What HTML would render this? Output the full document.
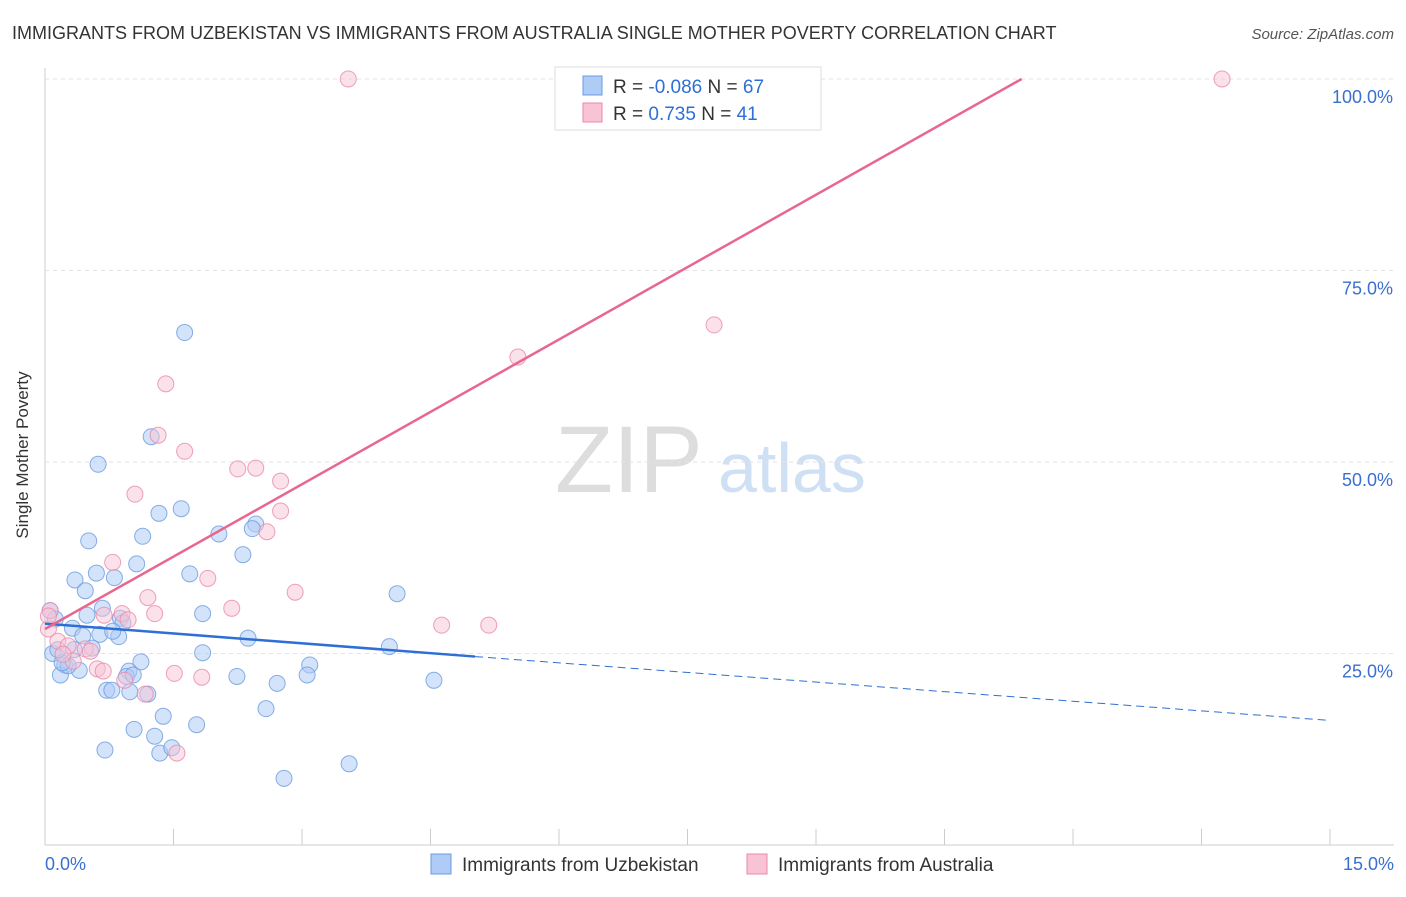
<!DOCTYPE html>
<html><head><meta charset="utf-8"><style>
body{margin:0;background:#fff;font-family:"Liberation Sans",sans-serif}
svg text{font-family:"Liberation Sans",sans-serif}
</style></head><body>
<svg id="c" width="1406" height="892">
<text x="12" y="39" font-size="18" fill="#333">IMMIGRANTS FROM UZBEKISTAN VS IMMIGRANTS FROM AUSTRALIA SINGLE MOTHER POVERTY CORRELATION CHART</text>
<text x="1394" y="39" font-size="15" fill="#555" font-style="italic" text-anchor="end">Source: ZipAtlas.com</text>
<text x="28" y="455" font-size="17" fill="#333" transform="rotate(-90 28 455)" text-anchor="middle">Single Mother Poverty</text>
<text x="555" y="492" font-size="95" fill="#ddd" font-family="Liberation Serif">ZIP</text>
<text x="718" y="492" font-size="70" fill="#cfe0f5">atlas</text>
<g id="grid"></g><g id="pts"></g><g id="lines"></g>
<g>
<rect x="555" y="67" width="266" height="63" fill="#fff" stroke="#ddd"/>
<rect x="583" y="76" width="19" height="19" fill="#aeccf5" stroke="#6a9be0"/>
<rect x="583" y="103" width="19" height="19" fill="#f8c3d5" stroke="#e88aa9"/>
<text x="613" y="93" font-size="19" fill="#333">R = <tspan fill="#2e6fd6">-0.086</tspan>   N = <tspan fill="#2e6fd6">67</tspan></text>
<text x="613" y="120" font-size="19" fill="#333">R =   <tspan fill="#2e6fd6">0.735</tspan>   N =  <tspan fill="#2e6fd6">41</tspan></text>
</g>
<g>
<rect x="431" y="854" width="20" height="20" fill="#aeccf5" stroke="#6a9be0"/>
<text x="462" y="871" font-size="19" fill="#333">Immigrants from Uzbekistan</text>
<rect x="747" y="854" width="20" height="20" fill="#f8c3d5" stroke="#e88aa9"/>
<text x="778" y="871" font-size="19" fill="#333">Immigrants from Australia</text>
</g>
<text x="45" y="870" font-size="18" fill="#3a6fd0">0.0%</text>
<text x="1394" y="870" font-size="18" fill="#3a6fd0" text-anchor="end">15.0%</text>
</svg>
<script>
const yTicks=[25,50,75,100];
const xTickCount=10;
const blueX=[1.63,1.24,0.62,1.59,1.33,1.14,0.51,2.03,2.46,2.42,2.31,1.07,0.6,0.81,0.35,1.69,0.47,4.11,0.67,0.49,0.06,0.12,1.84,0.88,0.91,0.32,0.64,0.86,0.79,0.44,2.37,4.02,0.55,0.34,1.84,0.09,0.23,1.12,0.4,0.98,3.09,3.06,0.18,0.95,2.24,1.03,4.54,2.71,0.72,0.78,0.99,1.2,2.58,1.38,1.77,1.04,1.28,0.7,1.34,1.48,3.55,2.79,0.27,0.2,0.15];
const blueY=[66.9,53.3,49.7,43.9,43.3,40.3,39.7,40.6,41.9,41.3,37.9,36.7,35.5,34.9,34.6,35.4,33.2,32.8,30.9,30.0,30.6,29.5,30.2,29.6,29.0,28.3,27.5,27.2,27.9,27.3,27.0,25.9,25.7,25.5,25.1,25.0,23.5,23.9,22.8,22.7,23.5,22.2,22.2,22.0,22.0,22.2,21.5,21.1,20.2,20.2,20.0,19.7,17.8,16.8,15.7,15.1,14.2,12.4,12.0,12.7,10.6,8.7,23.4,23.8,25.5];
const pinkX=[3.54,6.16,13.74,7.81,5.52,1.41,1.32,1.63,2.25,2.46,2.75,1.05,2.75,2.59,0.79,1.9,1.2,2.18,2.92,1.28,0.69,0.9,0.97,4.63,5.18,0.06,0.04,0.15,0.27,0.47,0.33,0.61,0.68,0.93,1.51,1.83,1.17,1.54,0.04,0.21,0.53];
const pinkY=[100,100,100,67.9,63.7,60.2,53.5,51.4,49.1,49.2,47.5,45.8,43.6,40.9,36.9,34.8,32.3,30.9,33.0,30.2,30.0,30.2,29.4,28.7,28.7,30.6,28.2,26.6,26.0,25.6,24.0,23.0,22.7,21.5,22.4,21.9,19.7,12.0,29.9,24.9,25.3];
const blueTrend=[[0,28.9],[5.02,24.6],[14.95,16.3]];
const pinkTrend=[[0,28.2],[11.4,100]];
const NS="http://www.w3.org/2000/svg";
const X0=45,X1=1330,Y0=845,Y1=79;
const sx=v=>X0+(X1-X0)*v/15, sy=v=>Y0-(Y0-Y1)*v/100;
function mk(t,a,p){const e=document.createElementNS(NS,t);for(const k in a)e.setAttribute(k,a[k]);p.appendChild(e);return e;}
const g=document.getElementById('grid');
mk('line',{x1:X0,y1:68,x2:X0,y2:Y0,stroke:'#ccc'},g);
mk('line',{x1:X0,y1:Y0,x2:1394,y2:Y0,stroke:'#ccc'},g);
for(let i=0;i<=xTickCount;i++){const l=mk('line',{x1:sx(i*1.5),y1:Y0,x2:sx(i*1.5),y2:Y0-16,stroke:'#ccc'},g);

}
yTicks.forEach(t=>{const l=mk('line',{x1:X0,y1:sy(t),x2:1394,y2:sy(t),stroke:'#e2e2e2','stroke-dasharray':'4 4'},g);


const tx=mk('text',{x:1393,y:sy(t)+24,'font-size':18,fill:'#3a6fd0','text-anchor':'end'},g);tx.textContent=t.toFixed(1)+'%';

});
const P=document.getElementById('pts');
blueX.forEach((x,i)=>{const c=mk('circle',{cx:sx(x),cy:sy(blueY[i]),r:8,fill:'#aeccf5','fill-opacity':0.55,stroke:'#6a9be0','stroke-opacity':0.8},P);

});
pinkX.forEach((x,i)=>{const c=mk('circle',{cx:sx(x),cy:sy(pinkY[i]),r:8,fill:'#f8c3d5','fill-opacity':0.5,stroke:'#e88aa9','stroke-opacity':0.8},P);

});
const L=document.getElementById('lines');
let l1=mk('line',{x1:sx(blueTrend[0][0]),y1:sy(blueTrend[0][1]),x2:sx(blueTrend[1][0]),y2:sy(blueTrend[1][1]),stroke:'#2e6fd6','stroke-width':2.5},L);


let l2=mk('line',{x1:sx(blueTrend[1][0]),y1:sy(blueTrend[1][1]),x2:sx(blueTrend[2][0]),y2:sy(blueTrend[2][1]),stroke:'#2e6fd6','stroke-width':1,'stroke-dasharray':'8 5'},L);


let l3=mk('line',{x1:sx(pinkTrend[0][0]),y1:sy(pinkTrend[0][1]),x2:sx(pinkTrend[1][0]),y2:sy(pinkTrend[1][1]),stroke:'#e8678f','stroke-width':2.5},L);


</script>
</body></html>
